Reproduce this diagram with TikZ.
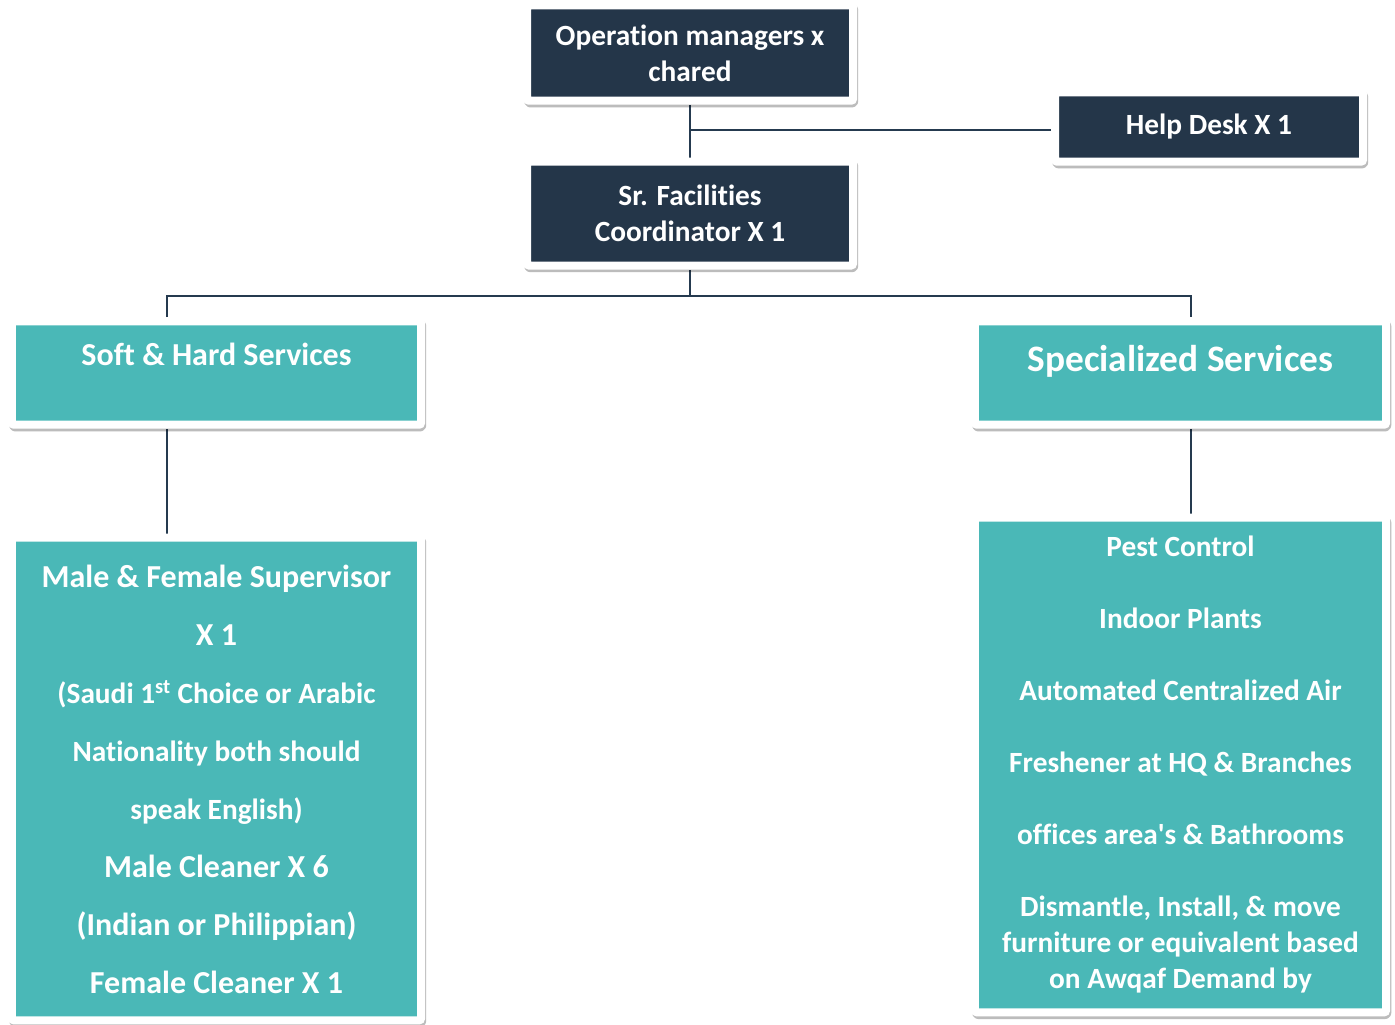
\documentclass[tikz,border=0pt]{standalone}
\usepackage{fontspec}
\setmainfont[Ligatures=NoCommon]{Carlito}
\usetikzlibrary{positioning,backgrounds}
\definecolor{navy}{HTML}{243649}
\definecolor{aqua}{HTML}{4AB8B7}
\definecolor{wire}{HTML}{253A4F}
\newcommand{\straightq}{{\addfontfeatures{Ligatures=TeXOff}'}}

\begin{document}
\begin{tikzpicture}[x=0.75pt, y=-0.75pt,
    glow/.style={preaction={draw=black, draw opacity=#1, line join=round,
        transform canvas={xshift=0.9pt, yshift=-2pt}}},
    box/.style={draw=white, line width=6pt, rounded corners=1.5pt, text=white, align=center,
        glow=0.07, preaction={line width=11.5pt}, glow=0.09, preaction={line width=9.5pt},
        glow=0.13, preaction={line width=8pt}},
    head/.style={box, fill=navy, font=\fontsize{22}{27}\selectfont\bfseries},
    branch/.style={box, fill=aqua, inner ysep=0pt},
    staff/.style={box, fill=aqua, inner sep=2pt},
    link/.style={wire, line width=1.3pt}]
    \useasboundingbox (0,0) rectangle (1395,1024);

    % Management
    \node[head, minimum width=244.5pt, minimum height=71.6pt] (ops) at (690,53)
        {Operation managers x\\chared};
    \node[head, minimum width=231pt, minimum height=52pt] (help) at (1209,127)
        {Help Desk X 1};
    \node[head, minimum width=244.5pt, minimum height=78pt] (sr) at (690,213.5)
        {Sr. Facilities\\Coordinator X 1};

    % Service groups
    \node[branch, minimum width=306.8pt, font=\fontsize{24}{29}\selectfont\bfseries,
        text height=33.4pt, text depth=44.2pt] (soft) at (216.5,373) {Soft \& Hard Services};
    \node[branch, minimum width=308.3pt, font=\fontsize{28}{34}\selectfont\bfseries,
        text height=37.9pt, text depth=39.7pt] (spec) at (1180.5,373) {Specialized Services};

    % Staff lists
    \node[staff, minimum width=306.8pt, minimum height=362pt,
        font=\fontsize{24}{43.5}\selectfont\bfseries] (male) at (216.5,779)
        {Male \& Female Supervisor\\X 1\\
         {\fontsize{22}{43.5}\selectfont(Saudi 1\textsuperscript{st} Choice or Arabic}\\
         {\fontsize{22}{43.5}\selectfont Nationality both should}\\
         {\fontsize{22}{43.5}\selectfont speak English)}\\Male Cleaner X 6\\
         (Indian or Philippian)\\Female Cleaner X 1};
    \node[staff, minimum width=308.3pt, minimum height=371pt,
        font=\fontsize{22}{27}\selectfont\bfseries] (pest) at (1180.5,765)
        {Pest Control\\[27pt]Indoor Plants\\[27pt]Automated Centralized Air\\[27pt]
         Freshener at HQ \& Branches\\[27pt]offices area\straightq s \& Bathrooms\\[27pt]
         Dismantle, Install, \& move\\furniture or equivalent based\\on Awqaf Demand by};

    % Connectors
    \begin{scope}[on background layer]
        \coordinate (hub) at (690,130);
        \coordinate (bus) at (690,296);
        \draw[link] (ops.south) -- (sr.north);
        \draw[link] (hub) -- (hub -| help.west);
        \draw[link] (sr.south) -- (bus);
        \draw[link] ([xshift=-37pt]soft.north) |- (bus) -| ([xshift=7.9pt]spec.north);
        \draw[link] ([xshift=-37pt]soft.south) -- ([xshift=-37pt]male.north);
        \draw[link] ([xshift=7.9pt]spec.south) -- ([xshift=7.9pt]pest.north);
    \end{scope}
\end{tikzpicture}
\end{document}
